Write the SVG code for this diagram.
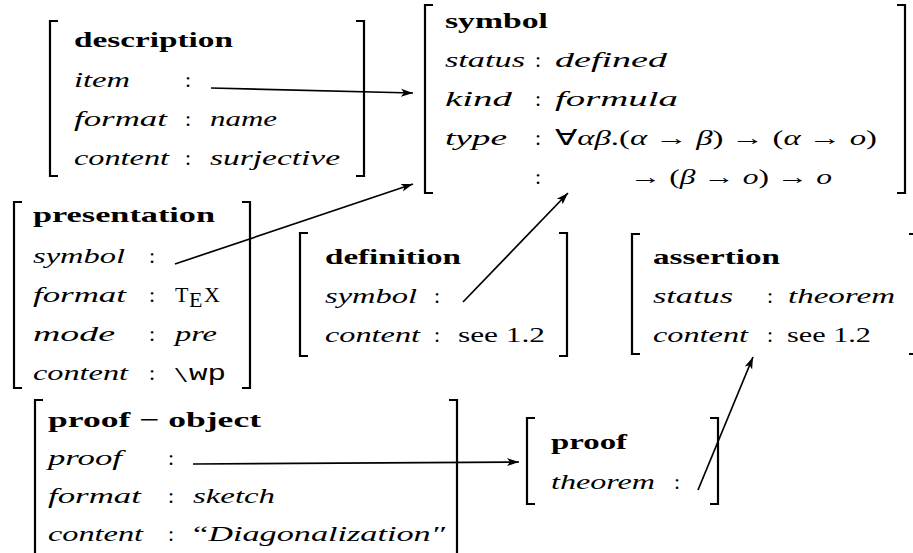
<svg xmlns="http://www.w3.org/2000/svg" width="913" height="553" viewBox="0 0 913 553">
<defs>
<style>
text{font-family:"Liberation Serif","Times New Roman",serif;font-size:22px;fill:#000}
.b{font-weight:bold}
.i{font-style:italic}
.r{font-style:normal}
.tt{font-family:"Liberation Mono","Courier New",monospace;font-style:normal}
.c{text-anchor:middle}
.br{fill:none;stroke:#000;stroke-width:2.2}
.ar{fill:none;stroke:#000;stroke-width:1.7;marker-end:url(#ah)}
</style>
<marker id="ah" markerUnits="userSpaceOnUse" markerWidth="14" markerHeight="10" refX="12" refY="5" orient="auto">
<path d="M0,1 L12,5 L0,9 L3,5 Z" fill="#000"/>
</marker>
</defs>
<rect width="913" height="553" fill="#fff"/>

<g id="description">
<path class="br" d="M58,21 H50 V176 H58"/>
<path class="br" d="M356,21 H364 V176 H356"/>
<text class="b" x="74" y="47" textLength="159" lengthAdjust="spacingAndGlyphs">description</text>
<text class="i" x="74" y="87" textLength="56" lengthAdjust="spacingAndGlyphs">item</text>
<text class="c" x="188" y="87">:</text>
<text class="i" x="74" y="126" textLength="93" lengthAdjust="spacingAndGlyphs">format</text>
<text class="c" x="188" y="126">:</text>
<text class="i" x="210" y="126" textLength="67" lengthAdjust="spacingAndGlyphs">name</text>
<text class="i" x="74" y="165" textLength="95" lengthAdjust="spacingAndGlyphs">content</text>
<text class="c" x="188" y="165">:</text>
<text class="i" x="210" y="165" textLength="130" lengthAdjust="spacingAndGlyphs">surjective</text>
</g>

<g id="symbol">
<path class="br" d="M433,5 H425 V193 H433"/>
<path class="br" d="M897,5 H905 V193 H897"/>
<text class="b" x="445" y="28" textLength="103" lengthAdjust="spacingAndGlyphs">symbol</text>
<text class="i" x="445" y="67" textLength="80" lengthAdjust="spacingAndGlyphs">status</text>
<text class="c" x="538" y="67">:</text>
<text class="i" x="555" y="67" textLength="112" lengthAdjust="spacingAndGlyphs">defined</text>
<text class="i" x="445" y="106" textLength="67" lengthAdjust="spacingAndGlyphs">kind</text>
<text class="c" x="538" y="106">:</text>
<text class="i" x="555" y="106" textLength="123" lengthAdjust="spacingAndGlyphs">formula</text>
<text class="i" x="445" y="145" textLength="62" lengthAdjust="spacingAndGlyphs">type</text>
<text class="c" x="538" y="145">:</text>
<text x="555" y="145" textLength="322" lengthAdjust="spacingAndGlyphs">∀<tspan class="i">αβ</tspan>.(<tspan class="i">α</tspan> → <tspan class="i">β</tspan>) → (<tspan class="i">α</tspan> → <tspan class="i">o</tspan>)</text>
<text class="c" x="538" y="184">:</text>
<text x="630" y="184" textLength="202" lengthAdjust="spacingAndGlyphs">→ (<tspan class="i">β</tspan> → <tspan class="i">o</tspan>) → <tspan class="i">o</tspan></text>
</g>

<g id="presentation">
<path class="br" d="M22,202 H14 V388 H22"/>
<path class="br" d="M242,202 H250 V388 H242"/>
<text class="b" x="33" y="222" textLength="182" lengthAdjust="spacingAndGlyphs">presentation</text>
<text class="i" x="33" y="263" textLength="92" lengthAdjust="spacingAndGlyphs">symbol</text>
<text class="c" x="152" y="263">:</text>
<text class="i" x="33" y="302" textLength="93" lengthAdjust="spacingAndGlyphs">format</text>
<text class="c" x="152" y="302">:</text>
<text x="175" y="302">T</text>
<text x="189" y="307">E</text>
<text x="204" y="302">X</text>
<text class="i" x="33" y="341" textLength="82" lengthAdjust="spacingAndGlyphs">mode</text>
<text class="c" x="152" y="341">:</text>
<text class="i" x="175" y="341" textLength="42" lengthAdjust="spacingAndGlyphs">pre</text>
<text class="i" x="33" y="380" textLength="95" lengthAdjust="spacingAndGlyphs">content</text>
<text class="c" x="152" y="380">:</text>
<text x="175" y="382" textLength="12" lengthAdjust="spacingAndGlyphs">\</text>
<text class="tt" x="189" y="380" textLength="37" lengthAdjust="spacingAndGlyphs">wp</text>
</g>

<g id="definition">
<path class="br" d="M308,233 H300 V356 H308"/>
<path class="br" d="M559,233 H567 V356 H559"/>
<text class="b" x="325" y="264" textLength="136" lengthAdjust="spacingAndGlyphs">definition</text>
<text class="i" x="325" y="303" textLength="92" lengthAdjust="spacingAndGlyphs">symbol</text>
<text class="c" x="437" y="303">:</text>
<text class="i" x="325" y="342" textLength="95" lengthAdjust="spacingAndGlyphs">content</text>
<text class="c" x="437" y="342">:</text>
<text x="458" y="342" textLength="87" lengthAdjust="spacingAndGlyphs">see 1.2</text>
</g>

<g id="assertion">
<path class="br" d="M640,234 H632 V354 H640"/>
<path class="br" d="M909,234 H915 V354 H909"/>
<text class="b" x="653" y="264" textLength="127" lengthAdjust="spacingAndGlyphs">assertion</text>
<text class="i" x="653" y="303" textLength="80" lengthAdjust="spacingAndGlyphs">status</text>
<text class="c" x="770" y="303">:</text>
<text class="i" x="788" y="303" textLength="107" lengthAdjust="spacingAndGlyphs">theorem</text>
<text class="i" x="653" y="342" textLength="95" lengthAdjust="spacingAndGlyphs">content</text>
<text class="c" x="770" y="342">:</text>
<text x="787" y="342" textLength="84" lengthAdjust="spacingAndGlyphs">see 1.2</text>
</g>

<g id="proof-object">
<path class="br" d="M43,400 H35 V560"/>
<path class="br" d="M449,400 H457 V560"/>
<text class="b" x="48" y="427" textLength="213" lengthAdjust="spacingAndGlyphs">proof − object</text>
<text class="i" x="48" y="465" textLength="74" lengthAdjust="spacingAndGlyphs">proof</text>
<text class="c" x="171" y="465">:</text>
<text class="i" x="48" y="503" textLength="93" lengthAdjust="spacingAndGlyphs">format</text>
<text class="c" x="171" y="503">:</text>
<text class="i" x="193" y="503" textLength="82" lengthAdjust="spacingAndGlyphs">sketch</text>
<text class="i" x="48" y="541" textLength="95" lengthAdjust="spacingAndGlyphs">content</text>
<text class="c" x="171" y="541">:</text>
<text class="i" x="193" y="541" textLength="252" lengthAdjust="spacingAndGlyphs"><tspan class="r">“</tspan>Diagonalization″</text>
</g>

<g id="proof">
<path class="br" d="M535,418 H527 V504 H535"/>
<path class="br" d="M710,418 H718 V504 H710"/>
<text class="b" x="551" y="449" textLength="76" lengthAdjust="spacingAndGlyphs">proof</text>
<text class="i" x="551" y="489" textLength="104" lengthAdjust="spacingAndGlyphs">theorem</text>
<text class="c" x="677" y="489">:</text>
</g>

<g id="connectors">
<line class="ar" x1="211" y1="88" x2="413" y2="93"/>
<line class="ar" x1="175" y1="264" x2="413" y2="184"/>
<line class="ar" x1="463" y1="302" x2="568" y2="193"/>
<line class="ar" x1="193" y1="464" x2="519" y2="462"/>
<line class="ar" x1="698" y1="490" x2="753" y2="357"/>
</g>
</svg>
